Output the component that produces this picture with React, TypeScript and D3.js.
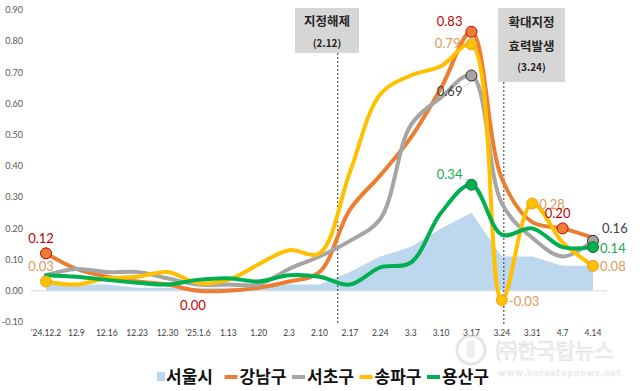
import React from "react";
import * as d3 from "d3";

// 주간 아파트 매매가격 변동률 (%)
const categories = ["’24.12.2", "12.9", "12.16", "12.23", "12.30", "’25.1.6", "1.13", "1.20", "2.3", "2.10", "2.17", "2.24", "3.3", "3.10", "3.17", "3.24", "3.31", "4.7", "4.14"];
const yTicks = [-0.1, 0, 0.1, 0.2, 0.3, 0.4, 0.5, 0.6, 0.7, 0.8, 0.9];

const seoul = [0.02, 0.02, 0.02, 0.01, 0.01, 0.01, 0.01, 0.01, 0.02, 0.02, 0.06, 0.11, 0.14, 0.2, 0.25, 0.11, 0.11, 0.08, 0.08];
const gangnam = [0.12, 0.07, 0.045, 0.03, 0.02, 0.0, 0.0, 0.01, 0.03, 0.06, 0.26, 0.37, 0.49, 0.65, 0.83, 0.36, 0.22, 0.2, 0.17];
const seocho = [0.05, 0.07, 0.06, 0.06, 0.04, 0.02, 0.02, 0.02, 0.07, 0.11, 0.16, 0.23, 0.53, 0.62, 0.69, 0.28, 0.17, 0.11, 0.16];
const songpa = [0.03, 0.02, 0.04, 0.045, 0.06, 0.025, 0.035, 0.085, 0.13, 0.12, 0.38, 0.63, 0.69, 0.72, 0.79, -0.03, 0.28, 0.155, 0.08];
const yongsan = [0.05, 0.045, 0.035, 0.026, 0.02, 0.035, 0.04, 0.03, 0.05, 0.045, 0.02, 0.075, 0.09, 0.25, 0.34, 0.18, 0.2, 0.14, 0.14];

const legendNames = ["서울시", "강남구", "서초구", "송파구", "용산구"];

const lineSeries = [
  { name: "강남구", values: gangnam, color: "#ed7d31", marker: "#ed7d31", markerStroke: "#c00000", labelColor: "#c00000" },
  { name: "서초구", values: seocho, color: "#a5a5a5", marker: "#a5a5a5", markerStroke: "#262626", labelColor: "#404040" },
  { name: "송파구", values: songpa, color: "#ffc000", marker: "#ffc000", markerStroke: "#ed9c31", labelColor: "#e0995a" },
  { name: "용산구", values: yongsan, color: "#00b050", marker: "#00b050", markerStroke: "#1e6b34", labelColor: "#1ea650" },
];

// 데이터 레이블: 계열, 지점, 위치
const dataLabels = [
  { s: "강남구", i: 0, pos: "above", marker: true },
  { s: "송파구", i: 0, pos: "above", marker: true },
  { s: "강남구", i: 5, pos: "below", marker: false },
  { s: "강남구", i: 14, pos: "upleft", marker: true, leader: true },
  { s: "송파구", i: 14, pos: "left", marker: true },
  { s: "서초구", i: 14, pos: "downleft", marker: true, leader: true },
  { s: "용산구", i: 14, pos: "upleft", marker: true, leader: true },
  { s: "송파구", i: 15, pos: "right", marker: true },
  { s: "송파구", i: 16, pos: "right", marker: true },
  { s: "강남구", i: 17, pos: "above", marker: true },
  { s: "서초구", i: 18, pos: "upright", marker: true, leader: true },
  { s: "용산구", i: 18, pos: "right", marker: true },
  { s: "송파구", i: 18, pos: "right", marker: true },
];

const W = 644;
const H = 391;
const numFont = "Lato, 'Noto Sans', sans-serif";
const korFont = "'Noto Sans CJK KR', sans-serif";

export default function App() {
  const x = d3.scalePoint<string>().domain(categories).range([46, 593]);
  const y = d3.scaleLinear().domain([-0.1, 0.9]).range([322, 10]);
  const step = x.step();

  const line = d3
    .line<number>()
    .x((_, i) => x(categories[i]) as number)
    .y((d) => y(d))
    .curve(d3.curveCatmullRom.alpha(0.5));

  const area = d3
    .area<number>()
    .x((_, i) => x(categories[i]) as number)
    .y0(y(0))
    .y1((d) => y(d));

  const byName: Record<string, (typeof lineSeries)[number]> = {};
  lineSeries.forEach((s) => (byName[s.name] = s));

  const x212 = (x("2.10") as number) + step * 0.6;
  const x324 = (x("3.24") as number) + 2;

  const labelPlace = (pos: string, px: number, py: number) => {
    switch (pos) {
      case "above": return { lx: px - 5, ly: py - 15, anchor: "middle" };
      case "below": return { lx: px - 5, ly: py + 15, anchor: "middle" };
      case "left": return { lx: px - 11, ly: py - 1, anchor: "end" };
      case "upleft": return { lx: px - 9, ly: py - 10, anchor: "end" };
      case "downleft": return { lx: px - 9, ly: py + 16, anchor: "end" };
      case "upright": return { lx: px + 9, ly: py - 12, anchor: "start" };
      default: return { lx: px + 7, ly: py + 1, anchor: "start" };
    }
  };

  const legendStep = 67.5;
  const legendX0 = 157;
  const legendY = 377;

  return (
    <svg width={W} height={H} style={{ position: "absolute", left: 0, top: 0, background: "#fff" }}>
      <rect x={0} y={0} width={W} height={H} fill="#fff" />

      {/* y axis labels */}
      {yTicks.map((t) => (
        <text key={t} x={23} y={y(t)} dy="0.35em" textAnchor="end" fontSize={9} fill="#595959" fontFamily={numFont}>
          {t.toFixed(2)}
        </text>
      ))}

      {/* x axis labels */}
      {categories.map((c) => (
        <text key={c} x={x(c)} y={333} dy="0.35em" textAnchor="middle" fontSize={8.5} fill="#404040" fontFamily={numFont}>
          {c}
        </text>
      ))}

      {/* 서울시 area */}
      <path d={area(seoul) || ""} fill="#bdd7ee" />
      <line x1={31} x2={607} y1={y(0)} y2={y(0)} stroke="#d9d9d9" strokeWidth={1} />

      {/* event markers */}
      <line x1={x212} x2={x212} y1={53} y2={325} stroke="#333" strokeWidth={1} strokeDasharray="2,2" />
      <line x1={x324} x2={x324} y1={82} y2={325} stroke="#333" strokeWidth={1} strokeDasharray="2,2" />

      <rect x={295} y={8} width={64} height={45} fill="#d6d6d6" />
      <text x={327} y={22} dy="0.35em" textAnchor="middle" fontSize={12.5} fontWeight="bold" fill="#262626" fontFamily={korFont}>지정해제</text>
      <text x={327} y={43} dy="0.35em" textAnchor="middle" fontSize={10} fontWeight="bold" fill="#262626" fontFamily={korFont}>(2.12)</text>

      <rect x={498} y={8} width={67} height={74} fill="#d6d6d6" />
      <text x={531.5} y={23} dy="0.35em" textAnchor="middle" fontSize={12.5} fontWeight="bold" fill="#262626" fontFamily={korFont}>확대지정</text>
      <text x={531.5} y={47} dy="0.35em" textAnchor="middle" fontSize={12.5} fontWeight="bold" fill="#262626" fontFamily={korFont}>효력발생</text>
      <text x={531.5} y={67} dy="0.35em" textAnchor="middle" fontSize={10} fontWeight="bold" fill="#262626" fontFamily={korFont}>(3.24)</text>

      {/* lines */}
      {lineSeries.map((s) => (
        <path key={s.name} d={line(s.values) || ""} fill="none" stroke={s.color} strokeWidth={4} strokeLinejoin="round" strokeLinecap="round" />
      ))}

      {/* markers and labels */}
      {dataLabels.map((l, k) => {
        const s = byName[l.s];
        const v = s.values[l.i];
        const px = x(categories[l.i]) as number;
        const py = y(v);
        const p = labelPlace(l.pos, px, py);
        return (
          <g key={k}>
            {l.leader && (
              <path
                d={`M${p.anchor === "end" ? p.lx + 2 : p.lx - 2},${p.ly + (l.pos === "downleft" ? -5 : 5)} Q${(px + p.lx) / 2 + (p.anchor === "end" ? 4 : -4)},${(py + p.ly) / 2} ${px + (p.anchor === "end" ? -2 : 2)},${py + (l.pos === "downleft" ? 4 : -4)}`}
                fill="none"
                stroke="#bfbfbf"
                strokeWidth={0.8}
              />
            )}
            {l.marker && <circle cx={px} cy={py} r={5.5} fill={s.marker} stroke={s.markerStroke} strokeWidth={1} />}
            <text x={p.lx} y={p.ly} dy="0.35em" textAnchor={p.anchor} fontSize={13} fill={s.labelColor} fontFamily={numFont}>
              {v.toFixed(2)}
            </text>
          </g>
        );
      })}

      {/* watermark */}
      <g opacity={0.55}>
        <circle cx={471} cy={350} r={14} fill="none" stroke="#d0d0d0" strokeWidth={3} />
        <rect x={467} y={340} width={8} height={18} rx={3} fill="#e2e2e2" />
        <text x={496} y={351} dy="0.35em" fontSize={21} fill="#f4f4f4" stroke="#c4c4c4" strokeWidth={0.7} fontFamily={korFont}>
          ㈜한국탑뉴스
        </text>
        <text x={498} y={373} dy="0.35em" fontSize={9.5} fontWeight="bold" letterSpacing={1.1} fill="#f4f4f4" stroke="#c8c8c8" strokeWidth={0.4} fontFamily={numFont}>
          www.koreatopnews.net
        </text>
      </g>

      {/* legend */}
      {legendNames.map((n, i) => {
        const lx = legendX0 + i * legendStep;
        const color = i === 0 ? "#bdd7ee" : lineSeries[i - 1].color;
        return (
          <g key={n}>
            {i === 0 ? (
              <rect x={lx} y={legendY - 5} width={8} height={9} fill={color} />
            ) : (
              <rect x={lx} y={legendY - 2} width={13} height={4} fill={color} />
            )}
            <text x={lx + (i === 0 ? 9 : 15)} y={legendY} dy="0.35em" fontSize={17} fontWeight="bold" fill="#111" fontFamily={korFont}>
              {n}
            </text>
          </g>
        );
      })}
    </svg>
  );
}
